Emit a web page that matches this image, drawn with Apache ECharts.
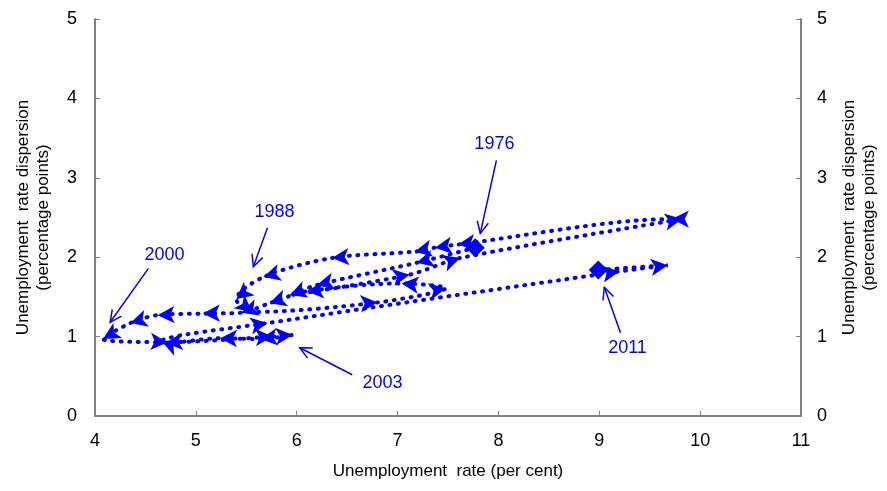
<!DOCTYPE html>
<html>
<head>
<meta charset="utf-8">
<script src="https://cdn.jsdelivr.net/npm/echarts@6/dist/echarts.min.js"></script>
<style>
html, body { margin: 0; padding: 0; background: #fff; }
#chart { width: 887px; height: 491px; }
</style>
</head>
<body>
<div id="chart"></div>
<script>
// annual path, 1976 -> 2011
const years = [1976, 1977, 1978, 1979, 1980, 1981, 1982, 1983, 1984, 1985, 1986, 1987,
  1988, 1989, 1990, 1991, 1992, 1993, 1994, 1995, 1996, 1997, 1998, 1999,
  2000, 2001, 2002, 2003, 2004, 2005, 2006, 2007, 2008, 2009, 2010, 2011];
const unemploymentRate = [7.77, 7.19, 6.2, 5.93, 7.12, 7.62, 9.82, 9.72, 7.6, 7.37, 7.17, 6.35,
  5.67, 5.4, 5.56, 6.8, 7.48, 7.04, 6.1, 5.73, 5.45, 5.07, 4.62, 4.35,
  4.08, 4.72, 5.76, 5.96, 5.64, 5.24, 4.7, 4.66, 5.71, 9.2, 9.68, 8.99];
const rateDispersion = [2.12, 1.93, 1.65, 1.52, 1.78, 1.99, 2.48, 2.48, 2.16, 2.12, 2.07, 1.99,
  1.75, 1.47, 1.31, 1.43, 1.61, 1.67, 1.57, 1.42, 1.3, 1.29, 1.27, 1.17,
  0.97, 0.93, 1.0, 1.02, 0.97, 0.98, 0.92, 0.94, 1.17, 1.82, 1.9, 1.84];

// annotations: label, text position, arrow start, arrow tip (data coords)
const noteLabels = ['1976', '1988', '2000', '2003', '2011'];
const noteText = [[7.96, 3.43], [5.78, 2.57], [4.69, 2.03], [6.85, 0.42], [9.28, 0.86]];
const noteFrom = [[7.98, 3.22], [5.71, 2.37], [4.53, 1.86], [6.55, 0.52], [9.21, 1.05]];
const noteTo = [[7.82, 2.3], [5.57, 1.88], [4.15, 1.18], [6.03, 0.86], [9.05, 1.62]];

const blue = '#0000ff';
const grey = '#808080';
const font = '"Liberation Sans", Arial, sans-serif';

const points = years.map((y, i) => [unemploymentRate[i], rateDispersion[i]]);

const chart = echarts.init(document.getElementById('chart'));

function axisCommon(labelMargin) {
  return {
    axisLine: { show: true, onZero: false, lineStyle: { color: grey, width: 2 } },
    axisTick: { show: true, inside: true, length: 5, lineStyle: { color: grey, width: 1 } },
    splitLine: { show: false },
    axisLabel: { color: '#000', fontSize: 18, fontFamily: font, margin: labelMargin },
    nameTextStyle: { color: '#000', fontSize: 17, fontFamily: font, lineHeight: 20 },
  };
}

const yName = 'Unemployment  rate dispersion\n(percentage points)';

chart.setOption({
  animation: false,
  grid: { left: 95, right: 86, top: 19, bottom: 75, outerBoundsMode: 'none' },
  xAxis: Object.assign(axisCommon(16), {
    type: 'value', min: 4, max: 11, interval: 1,
    name: 'Unemployment  rate (per cent)', nameLocation: 'middle', nameGap: 45,
  }),
  yAxis: [
    Object.assign(axisCommon(18), {
      type: 'value', min: 0, max: 5, interval: 1, position: 'left',
      name: yName, nameLocation: 'middle', nameGap: 42, nameRotate: 90,
    }),
    Object.assign(axisCommon(16), {
      type: 'value', min: 0, max: 5, interval: 1, position: 'right',
      name: yName, nameLocation: 'middle', nameGap: 38, nameRotate: 90,
    }),
  ],
  series: [
    {
      type: 'line',
      data: points,
      smooth: 0.3,
      showAllSymbol: true,
      symbol: 'arrow',
      symbolSize: [13, 17],
      itemStyle: { color: blue },
      lineStyle: { color: blue, width: 4, type: [1, 7.5], cap: 'round' },
    },
  ],
});

// point each arrow along the direction it was reached from
const px = points.map((p) => chart.convertToPixel({ gridIndex: 0 }, p));
const data = points.map((p, i) => {
  if (i === 0 || i === points.length - 1) {
    return { value: p, symbol: 'diamond', symbolSize: 19 };
  }
  const a = px[i - 1], b = px[i];
  const ang = Math.atan2(-(b[1] - a[1]), b[0] - a[0]) * 180 / Math.PI - 90;
  return { value: p, symbolRotate: ang };
});

// annotation text + arrows
const graphics = [];
noteLabels.forEach((txt, i) => {
  const t = chart.convertToPixel({ gridIndex: 0 }, noteText[i]);
  const f = chart.convertToPixel({ gridIndex: 0 }, noteFrom[i]);
  const e = chart.convertToPixel({ gridIndex: 0 }, noteTo[i]);
  graphics.push({
    type: 'text', x: t[0], y: t[1],
    style: { text: txt, fill: blue, font: '18px ' + font, align: 'center', verticalAlign: 'middle' },
  });
  graphics.push({
    type: 'line', shape: { x1: f[0], y1: f[1], x2: e[0], y2: e[1] },
    style: { stroke: blue, lineWidth: 1.5 },
  });
  const dir = Math.atan2(f[1] - e[1], f[0] - e[0]);
  const len = 13, spread = 0.45;
  graphics.push({
    type: 'polyline',
    shape: {
      points: [
        [e[0] + len * Math.cos(dir + spread), e[1] + len * Math.sin(dir + spread)],
        [e[0], e[1]],
        [e[0] + len * Math.cos(dir - spread), e[1] + len * Math.sin(dir - spread)],
      ],
    },
    style: { stroke: blue, lineWidth: 1.5, fill: null },
  });
});

chart.setOption({ series: [{ data: data }], graphic: graphics });
</script>
</body>
</html>
